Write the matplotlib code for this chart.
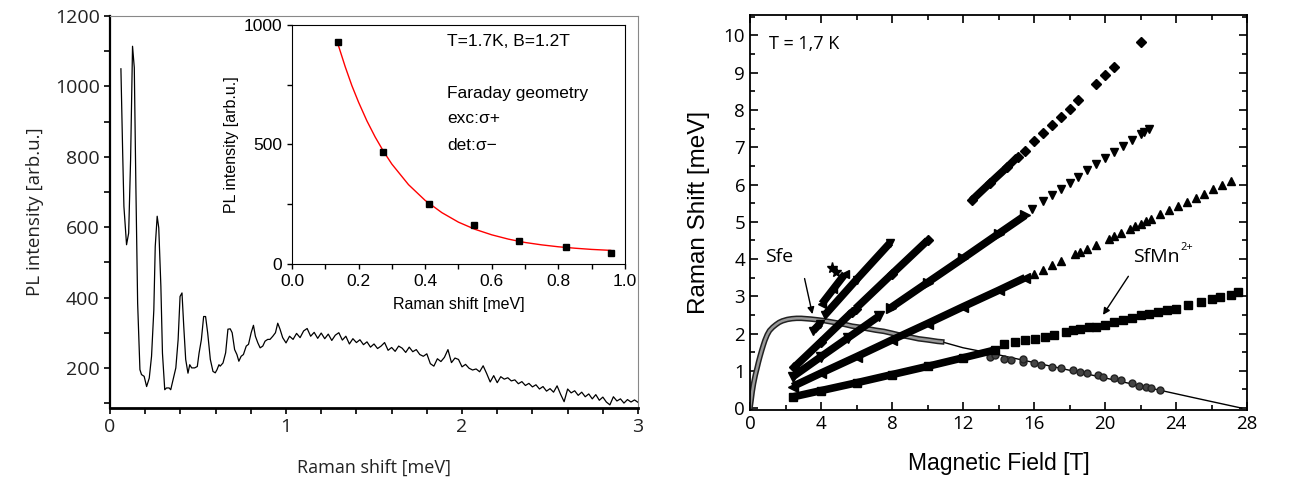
import matplotlib
matplotlib.use("Agg")
import matplotlib.pyplot as plt
import matplotlib.patheffects as pe
from matplotlib.ticker import MultipleLocator, FormatStrFormatter

# ---- left panel: PL spectrum ----
spec_x = [0.062, 0.072, 0.079, 0.094, 0.106, 0.117, 0.128, 0.138, 0.147, 0.157,
          0.170, 0.179, 0.194, 0.208, 0.223, 0.236, 0.249, 0.257, 0.268, 0.277,
          0.289, 0.298, 0.311, 0.321, 0.336, 0.345, 0.358, 0.374, 0.387, 0.398,
          0.409, 0.419, 0.430, 0.443, 0.453, 0.464, 0.481, 0.496, 0.506, 0.519,
          0.532, 0.543, 0.555, 0.570, 0.585, 0.598, 0.608, 0.619, 0.626, 0.642,
          0.657, 0.670, 0.683, 0.694, 0.708, 0.721, 0.732, 0.745, 0.758, 0.774,
          0.787, 0.802, 0.815, 0.826, 0.840, 0.853, 0.868, 0.881, 0.896, 0.909,
          0.925, 0.940, 0.953, 0.966, 0.981,
          1.00, 1.02, 1.04, 1.06, 1.08, 1.10, 1.12, 1.14, 1.16, 1.18,
          1.20, 1.22, 1.24, 1.26, 1.28, 1.30, 1.32, 1.34, 1.36, 1.38,
          1.40, 1.42, 1.44, 1.46, 1.48, 1.50, 1.52, 1.54, 1.56, 1.58,
          1.60, 1.62, 1.64, 1.66, 1.68, 1.70, 1.72, 1.74, 1.76, 1.78,
          1.80, 1.82, 1.84, 1.86, 1.88, 1.90, 1.92, 1.94, 1.96, 1.98,
          2.00, 2.02, 2.04, 2.06, 2.08, 2.10, 2.12, 2.14, 2.16, 2.18,
          2.20, 2.22, 2.24, 2.26, 2.28, 2.30, 2.32, 2.34, 2.36, 2.38,
          2.40, 2.42, 2.44, 2.46, 2.48, 2.50, 2.52, 2.54, 2.56, 2.58,
          2.60, 2.62, 2.64, 2.66, 2.68, 2.70, 2.72, 2.74, 2.76, 2.78,
          2.80, 2.82, 2.84, 2.86, 2.88, 2.90, 2.92, 2.94, 2.96, 2.98, 3.00]
spec_y = [1050, 811, 659, 550, 583, 792, 1114, 1053, 716, 384,
          195, 181, 176, 147, 171, 233, 365, 545, 631, 598,
          432, 242, 138, 143, 143, 138, 166, 200, 280, 403,
          413, 318, 224, 185, 209, 200, 200, 204, 242, 280,
          346, 346, 299, 224, 190, 186, 195, 209, 205, 214,
          243, 310, 311, 300, 252, 238, 219, 233, 238, 262,
          267, 300, 321, 290, 271, 257, 262, 276, 281, 281,
          290, 300, 327, 310, 286,
          271, 290, 281, 298, 286, 305, 312, 290, 301, 284,
          299, 283, 296, 278, 293, 300, 279, 290, 268, 283,
          272, 280, 266, 274, 259, 268, 255, 262, 272, 250,
          258, 247, 262, 256, 244, 259, 246, 252, 238, 233,
          240, 212, 205, 226, 218, 230, 252, 215, 228, 224,
          203, 210, 199, 194, 197, 189, 206, 184, 160, 178,
          158, 175, 168, 172, 163, 166, 155, 161, 150, 156,
          146, 152, 140, 147, 134, 141, 131, 149, 125, 104,
          140, 129, 135, 122, 131, 118, 126, 112, 124, 108,
          117, 103, 95, 118, 106, 112, 100, 110, 103, 109, 102]

# inset: peak intensity vs Raman shift + exponential fit
inset_x = [0.137, 0.272, 0.411, 0.546, 0.683, 0.822, 0.957]
inset_y = [930, 470, 253, 163, 97, 72, 47]
fit_x = [0.137, 0.16, 0.18, 0.20, 0.225, 0.25, 0.275, 0.30, 0.35, 0.40, 0.45,
         0.50, 0.55, 0.60, 0.65, 0.70, 0.75, 0.80, 0.85, 0.90, 0.957]
fit_y = [925, 825, 746, 677, 599, 531, 471, 418, 332, 266, 215,
         175, 145, 122, 104, 90, 80, 72, 66, 61, 57]

# ---- right panel: Raman shift vs magnetic field ----
sfe_x = [0.0, 0.06, 0.125, 0.2, 0.3, 0.4, 0.48, 0.57, 0.66, 0.75, 0.84, 0.97,
         1.1, 1.28, 1.46, 1.64, 1.82, 2.1, 2.36, 2.62, 2.89, 3.16, 3.43, 3.8,
         4.14, 4.5, 4.86, 5.3, 5.75, 6.2, 6.64, 7.1, 7.54, 8.0, 8.43, 9.0,
         9.5, 10.0, 10.57, 10.8]
sfe_y = [0.0, 0.2, 0.44, 0.66, 0.89, 1.08, 1.24, 1.40, 1.55, 1.69, 1.82, 1.97,
         2.08, 2.17, 2.24, 2.30, 2.34, 2.38, 2.40, 2.41, 2.41, 2.40, 2.39, 2.37,
         2.35, 2.32, 2.29, 2.25, 2.2, 2.17, 2.13, 2.09, 2.06, 2.01, 1.96, 1.91,
         1.86, 1.83, 1.79, 1.78]
sfe_line_x = [10.8, 12.0, 14.0, 17.0, 20.0, 23.0, 25.0, 27.7]
sfe_line_y = [1.78, 1.62, 1.43, 1.12, 0.81, 0.49, 0.28, 0.0]
sfe_hi_x = [13.5, 13.8, 14.3, 14.7, 15.4, 15.4, 16.0, 16.4, 17.0, 17.5, 18.2,
            18.6, 19.0, 19.6, 19.9, 20.5, 20.9, 21.5, 21.9, 22.3, 22.6, 23.1]
sfe_hi_y = [1.38, 1.42, 1.33, 1.29, 1.24, 1.33, 1.2, 1.16, 1.11, 1.07, 1.02,
            0.98, 0.93, 0.89, 0.84, 0.8, 0.76, 0.67, 0.6, 0.56, 0.53, 0.49]

sq_dense_x = [2.4, 4.0, 6.0, 8.0, 10.0, 12.0, 13.8]
sq_dense_y = [0.3, 0.47, 0.68, 0.9, 1.12, 1.35, 1.56]
sq_x = [14.3, 14.9, 15.5, 16.05, 16.6, 17.1, 17.8, 18.2, 18.6, 19.1, 19.5, 20.0,
        20.5, 21.0, 21.5, 22.0, 22.5, 23.0, 23.5, 24.0, 24.7, 25.4, 26.0,
        26.5, 27.1, 27.5]
sq_y = [1.73, 1.78, 1.82, 1.85, 1.91, 1.97, 2.04, 2.09, 2.13, 2.18, 2.18, 2.24,
        2.31, 2.36, 2.42, 2.49, 2.53, 2.58, 2.62, 2.67, 2.76, 2.84, 2.93,
        2.98, 3.04, 3.11]

up_dense_x = [2.4, 4.0, 6.0, 8.0, 10.0, 12.0, 14.0, 15.5]
up_dense_y = [0.58, 0.94, 1.38, 1.83, 2.27, 2.72, 3.16, 3.5]
up_x = [16.0, 16.5, 17.0, 17.5, 18.3, 18.6, 19.0, 19.5, 20.2, 20.5, 20.9, 21.4,
        21.7, 22.0, 22.3, 22.6, 23.1, 23.6, 24.1, 24.6, 25.1, 25.6, 26.1,
        26.6, 27.1]
up_y = [3.6, 3.72, 3.84, 3.95, 4.13, 4.19, 4.28, 4.39, 4.55, 4.62, 4.71, 4.82,
        4.88, 4.95, 5.02, 5.08, 5.2, 5.31, 5.42, 5.53, 5.64, 5.75, 5.87,
        5.98, 6.09]

dn_low_x = [2.4, 4.0, 5.5, 7.27]
dn_low_y = [0.84, 1.38, 1.88, 2.47]
dn_dense_x = [7.95, 10.0, 12.0, 14.0, 15.5]
dn_dense_y = [2.7, 3.37, 4.02, 4.68, 5.17]
dn_x = [15.9, 16.5, 17.0, 17.5, 18.0, 18.5, 19.0, 19.5, 20.0, 20.5, 21.0, 21.5,
        22.0, 22.2, 22.45]
dn_y = [5.35, 5.55, 5.72, 5.88, 6.05, 6.2, 6.38, 6.55, 6.7, 6.88, 7.03, 7.2,
        7.35, 7.42, 7.5]

dia_seg1_x = [2.5, 4.0, 5.75]
dia_seg1_y = [1.1, 1.78, 2.58]
dia_seg2_x = [5.95, 8.0, 10.0]
dia_seg2_y = [2.67, 3.6, 4.5]
dia_seg3_x = [12.5, 13.5, 14.5, 15.1]
dia_seg3_y = [5.58, 6.03, 6.47, 6.75]
dia_x = [15.5, 16.0, 16.5, 17.0, 17.5, 18.0, 18.5, 19.5, 20.0, 20.5, 22.0]
dia_y = [6.9, 7.16, 7.38, 7.6, 7.82, 8.04, 8.28, 8.71, 8.93, 9.16, 9.82]

e_seg1_x = [3.55, 3.95]
e_seg1_y = [2.07, 2.27]
e_seg2_x = [4.2, 6.0, 7.9]
e_seg2_y = [2.49, 3.45, 4.44]
f_x = [4.05, 4.7, 5.35]
f_y = [2.8, 3.2, 3.6]
star_x = [4.6, 4.82]
star_y = [3.75, 3.64]

fig = plt.figure(figsize=(13.08, 4.82), dpi=100)

# ---------- left main axes ----------
ax = fig.add_axes([0.0841, 0.1535, 0.4037, 0.8133])
ax.plot(spec_x, spec_y, color="black", lw=0.9)
ax.set_xlim(0, 3)
ax.set_ylim(86, 1200)
ax.xaxis.set_major_locator(MultipleLocator(1))
ax.xaxis.set_minor_locator(MultipleLocator(0.2))
ax.yaxis.set_minor_locator(MultipleLocator(100))
ax.set_yticks([200, 400, 600, 800, 1000, 1200])
ax.tick_params(which="both", direction="out", length=4, width=1.2,
               labelsize=14, top=False, right=False, colors="black")
for lab in ax.get_xticklabels() + ax.get_yticklabels():
    lab.set_family("Open Sans")
    lab.set_color("#222222")
ax.spines["left"].set_linewidth(1.6)
ax.spines["bottom"].set_linewidth(2.0)
ax.spines["top"].set_color("#888888")
ax.spines["right"].set_color("#888888")
ax.set_xlabel("Raman shift [meV]", family="Open Sans", fontsize=13,
              labelpad=16, color="#222222")
ax.set_ylabel("PL intensity [arb.u.]", family="Open Sans", fontsize=13.5,
              labelpad=8, color="#222222")

# ---------- inset ----------
ins = fig.add_axes([0.2232, 0.4523, 0.2546, 0.4959])
ins.plot(fit_x, fit_y, color="red", lw=1.0)
ins.plot(inset_x, inset_y, "s", color="black", ms=5)
ins.set_xlim(0, 1.0)
ins.set_ylim(0, 1000)
ins.xaxis.set_major_locator(MultipleLocator(0.2))
ins.xaxis.set_minor_locator(MultipleLocator(0.1))
ins.yaxis.set_major_locator(MultipleLocator(500))
ins.yaxis.set_minor_locator(MultipleLocator(250))
ins.xaxis.set_major_formatter(FormatStrFormatter("%.1f"))
ins.tick_params(which="both", direction="out", length=3.5, width=1,
                labelsize=12.5)
for lab in ins.get_xticklabels() + ins.get_yticklabels():
    lab.set_family("Liberation Sans")
ins.set_xlabel("Raman shift [meV]", family="Liberation Sans", fontsize=11.5,
               labelpad=6)
ins.set_ylabel("PL intensity [arb.u.]", family="Liberation Sans", fontsize=11.5,
               labelpad=3)
ins.text(0.465, 0.93, "T=1.7K, B=1.2T", transform=ins.transAxes,
         family="Liberation Sans", fontsize=12.5, va="center")
for yy, txt in [(0.714, "Faraday geometry"), (0.607, "exc:σ+"), (0.495, "det:σ\u2212")]:
    ins.text(0.465, yy, txt, transform=ins.transAxes,
             family="Liberation Sans", fontsize=12.5, va="center")

# ---------- right axes ----------
ar = fig.add_axes([0.5734, 0.1494, 0.38, 0.8195])
band = [pe.Stroke(linewidth=4.0, foreground="#222222"),
        pe.Stroke(linewidth=1.8, foreground="#999999")]
ar.plot(sfe_line_x, sfe_line_y, color="black", lw=1.0)
ar.plot(sfe_x, sfe_y, color="#999999", lw=1.8, path_effects=band)
ar.plot(sfe_hi_x, sfe_hi_y, "o", color="#444444", mec="#222222", ms=5)

dense_kw = dict(color="black", lw=5.5, solid_capstyle="butt")
ar.plot(sq_dense_x, sq_dense_y, marker="s", ms=6, **dense_kw)
ar.plot(sq_x, sq_y, "s", color="black", ms=5.5)
ar.plot(up_dense_x, up_dense_y, marker="<", ms=7, **dense_kw)
ar.plot(up_x, up_y, "^", color="black", ms=6)
ar.plot(dn_low_x, dn_low_y, marker="v", ms=7, **dense_kw)
ar.plot(dn_dense_x, dn_dense_y, marker=">", ms=7, **dense_kw)
ar.plot(dn_x, dn_y, "v", color="black", ms=6)
ar.plot(dia_seg1_x, dia_seg1_y, marker="D", ms=5, **dense_kw)
ar.plot(dia_seg2_x, dia_seg2_y, marker="D", ms=5, **dense_kw)
ar.plot(dia_seg3_x, dia_seg3_y, marker="D", ms=5, **dense_kw)
ar.plot(dia_x, dia_y, "D", color="black", ms=5)
ar.plot(e_seg1_x, e_seg1_y, marker="v", ms=6, **dense_kw)
ar.plot(e_seg2_x, e_seg2_y, marker="v", ms=6, **dense_kw)
ar.plot(f_x, f_y, marker="<", ms=6, **dense_kw)
ar.plot(star_x, star_y, "*", color="black", ms=8)

ar.set_xlim(0, 28)
ar.set_ylim(-0.05, 10.55)
ar.xaxis.set_major_locator(MultipleLocator(4))
ar.xaxis.set_minor_locator(MultipleLocator(2))
ar.yaxis.set_major_locator(MultipleLocator(1))
ar.yaxis.set_minor_locator(MultipleLocator(0.5))
ar.tick_params(which="both", direction="in", top=True, right=True, width=1.2)
ar.tick_params(which="major", length=6, labelsize=13.5)
ar.tick_params(which="minor", length=3.5)
for lab in ar.get_xticklabels() + ar.get_yticklabels():
    lab.set_family("Open Sans")
for s in ar.spines.values():
    s.set_linewidth(1.3)
ar.set_xlabel("Magnetic Field [T]", family="Liberation Sans", fontsize=16.5,
              labelpad=14)
ar.set_ylabel("Raman Shift [meV]", family="Liberation Sans", fontsize=17.5,
              labelpad=10)

ar.text(1.05, 9.78, "T = 1,7 K", family="Open Sans", fontsize=13, va="center")
ar.text(0.85, 4.05, "Sfe", family="Open Sans", fontsize=14, va="center")
ar.annotate("", xy=(3.55, 2.45), xytext=(3.04, 3.55),
            arrowprops=dict(arrowstyle="-|>", color="black", lw=1,
                            mutation_scale=10))
ar.text(21.6, 4.05, "SfMn", family="Open Sans", fontsize=14, va="center")
ar.text(24.25, 4.15, "2+", family="Open Sans", fontsize=8, va="bottom")
ar.annotate("", xy=(19.8, 2.44), xytext=(21.4, 3.6),
            arrowprops=dict(arrowstyle="-|>", color="black", lw=1,
                            mutation_scale=10))

fig.savefig("out.png", dpi=100)
